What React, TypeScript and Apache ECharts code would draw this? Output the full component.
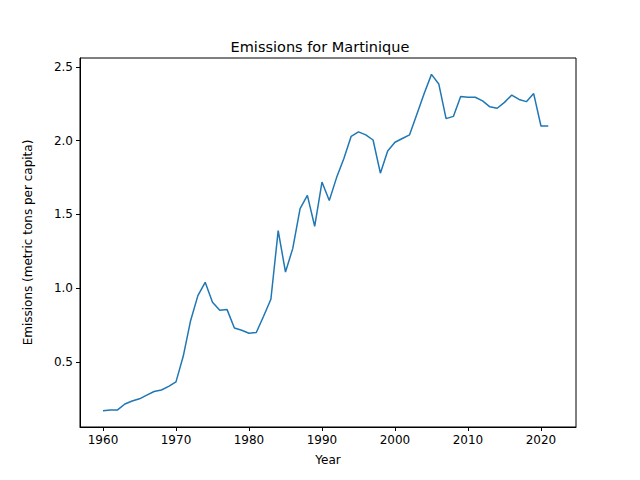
import React, { useEffect, useRef } from "react";
import * as echarts from "echarts";

const years: number[] = [];
for (let y = 1960; y <= 2021; y++) years.push(y);
const emissions = [
  0.17, 0.175, 0.175, 0.215, 0.235, 0.25, 0.275, 0.3, 0.31, 0.335,
  0.365, 0.54, 0.78, 0.95, 1.04, 0.905, 0.85, 0.855, 0.73, 0.715,
  0.695, 0.7, 0.81, 0.925, 1.39, 1.11, 1.27, 1.54, 1.63, 1.42,
  1.72, 1.595, 1.75, 1.88, 2.03, 2.06, 2.04, 2.005, 1.78, 1.93,
  1.99, 2.015, 2.04, 2.18, 2.32, 2.45, 2.385, 2.15, 2.165, 2.3,
  2.295, 2.295, 2.27, 2.23, 2.22, 2.26, 2.31, 2.28, 2.265, 2.32,
  2.1, 2.1,
];
const xTicks = [1960, 1970, 1980, 1990, 2000, 2010, 2020];
const yTicks = [0.5, 1.0, 1.5, 2.0, 2.5];

export default function App() {
  const ref = useRef<HTMLDivElement>(null);
  useEffect(() => {
    document.body.style.margin = "0";
    const chart = echarts.init(ref.current!, null, { renderer: "svg" });
    const font = "DejaVu Sans";
    chart.setOption({
      animation: false,
      backgroundColor: "#fff",
      title: {
        text: "Emissions for Martinique",
        left: "center",
        top: 34,
        textStyle: { fontFamily: font, fontSize: 14.5, fontWeight: "normal", color: "#000" },
      },
      grid: { left: 80, right: 64, top: 58, bottom: 53, show: true, borderColor: "#000", borderWidth: 1 },
      xAxis: {
        type: "value",
        min: 1956.85,
        max: 2024.8,
        name: "Year",
        nameLocation: "middle",
        nameGap: 27,
        nameTextStyle: { fontFamily: font, fontSize: 12, color: "#000" },
        splitLine: { show: false },
        axisLine: { show: true, onZero: false, lineStyle: { color: "#000" } },
        axisTick: { show: true, length: 4, customValues: xTicks, lineStyle: { color: "#000" } },
        axisLabel: {
          customValues: xTicks,
          fontFamily: font,
          fontSize: 12,
          color: "#000",
          margin: 7,
          formatter: (v: number) => String(Math.round(v)),
        },
      },
      yAxis: {
        type: "value",
        min: 0.059,
        max: 2.561,
        name: "Emissions (metric tons per capita)",
        nameLocation: "middle",
        nameGap: 46,
        nameTextStyle: { fontFamily: font, fontSize: 12, color: "#000" },
        splitLine: { show: false },
        axisLine: { show: true, lineStyle: { color: "#000" } },
        axisTick: { show: true, length: 4, customValues: yTicks, lineStyle: { color: "#000" } },
        axisLabel: {
          customValues: yTicks,
          fontFamily: font,
          fontSize: 12,
          color: "#000",
          margin: 7,
          formatter: (v: number) => v.toFixed(1),
        },
      },
      series: [
        {
          type: "line",
          data: years.map((y, i) => [y, emissions[i]]),
          showSymbol: false,
          lineStyle: { color: "#1f77b4", width: 1.5 },
        },
      ],
    });
    return () => chart.dispose();
  }, []);
  return <div ref={ref} style={{ width: 640, height: 480 }} />;
}
